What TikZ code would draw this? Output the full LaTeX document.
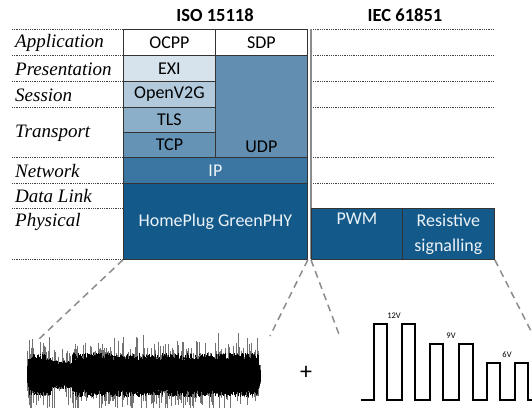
\documentclass[tikz,border=0pt]{standalone}
\usepackage{fontspec}
\setmainfont{Carlito}
\newfontfamily\layerfont{Liberation Serif}
\usetikzlibrary{positioning}

\definecolor{tintA}{HTML}{D6E3ED}
\definecolor{tintB}{HTML}{B2CADB}
\definecolor{tintC}{HTML}{8CAFC9}
\definecolor{tintD}{HTML}{6593B6}
\definecolor{tintE}{HTML}{3B76A3}
\definecolor{tintF}{HTML}{135A8B}

\tikzset{
  proto/.style={draw=black!80, line width=0.8pt, inner sep=0pt, anchor=north west,
    font=\fontsize{18}{25}\selectfont},
  dark/.style={proto, fill=tintF, text=white!92!tintF},
  osi/.style={anchor=west, inner sep=0pt, font=\layerfont\itshape\fontsize{19}{20}\selectfont},
  head/.style={inner sep=0pt, font=\bfseries\fontsize{18.5}{20}\selectfont},
  volt/.style={inner sep=0pt, font=\fontsize{8.5}{9}\selectfont},
  sep/.style={densely dotted, line width=0.8pt, black!75},
  zoomline/.style={dash pattern=on 7pt off 5pt, line width=1.5pt, black!45},
}

\begin{document}
\begin{tikzpicture}[x=1pt,y=-1pt]
  \useasboundingbox (0,0) rectangle (532,407);

  % headings
  \node[head] (iso) at (215,15) {ISO 15118};
  \node[head] (iec) at (405,15) {IEC 61851};

  % layer separators
  \foreach \y in {29,55,81,107,157,183,208,259}
    \draw[sep] (12,\y) -- (123,\y);
  \foreach \y in {29,55,81,107,157,183}
    \draw[sep] (313,\y) -- (494,\y);

  % OSI layers
  \node[osi] (lapp)  at (15,43)  {Application};
  \node[osi] (lpres) at (15,69)  {Presentation};
  \node[osi] (lses)  at (15,95)  {Session};
  \node[osi] (ltra)  at (15,133) {Transport};
  \node[osi] (lnet)  at (15,171) {Network};
  \node[osi] (ldl)   at (15,196) {Data Link};
  \node[osi] (lphy)  at (15,222) {Physical};

  % ISO 15118 stack
  \node[proto, fill=white, minimum width=92pt, minimum height=26pt] (ocpp) at (123,29) {OCPP};
  \node[proto, fill=white, minimum width=92pt, minimum height=26pt] (sdp) at (215,29) {SDP};
  \node[proto, fill=tintA, minimum width=92pt, minimum height=26pt] (exi) at (123,55) {EXI};
  \node[proto, fill=tintB, minimum width=92pt, minimum height=26pt] (v2g) at (123,81) {OpenV2G};
  \node[proto, fill=tintC, minimum width=92pt, minimum height=25pt] (tls) at (123,107) {TLS};
  \node[proto, fill=tintD, minimum width=92pt, minimum height=25pt] (tcp) at (123,132) {TCP};
  \node[proto, fill=tintD!97!black, minimum width=92pt, minimum height=102pt,
    label={[anchor=south, inner sep=5pt, font=\fontsize{18}{20}\selectfont]south:UDP}] (udp) at (215,55) {};
  \node[proto, fill=tintE, text=white!92!tintE, minimum width=184pt, minimum height=26pt] (ip) at (123,157) {IP};
  \node[dark, minimum width=184pt, minimum height=76pt] (home) at (123,183) {HomePlug GreenPHY};

  % IEC 61851
  \draw[black!45, line width=1.5pt] (311,29) -- (311,259);
  \node[dark, minimum width=91pt, minimum height=51pt,
    label={[anchor=north, inner sep=5pt, text=white!92!tintF, font=\fontsize{18}{20}\selectfont]north:PWM}] (pwm) at (311,208) {};
  \node[dark, minimum width=92pt, minimum height=51pt, align=center] (res) at (402,208) {Resistive\\signalling};

  % zoom lines
  \coordinate (nl) at (39,339);
  \coordinate (nr) at (270,336);
  \coordinate (sl) at (340,337);
  \coordinate (sr) at (532,333);
  \draw[zoomline] (home.south west) -- (nl);
  \draw[zoomline] (home.south east) -- (nr);
  \draw[zoomline] (pwm.south west) -- (sl);
  \draw[zoomline] (res.south east) -- (sr);

  % powerline noise
  \pgfmathsetseed{4711}
  \foreach \x in {27,27.5,...,260}{
    \pgfmathsetmacro\env{(\x<52 ? 19 : (\x<72 ? 13 : 20))*min(1,(\x-26)/3)*min(1,(261-\x)/3)}
    \pgfmathsetmacro\up{\env*(0.75+0.35*rnd)}
    \pgfmathsetmacro\dn{\env*(0.75+0.35*rnd)}
    \pgfmathsetmacro\spu{\up+22*rnd^7}
    \pgfmathsetmacro\spd{\dn+24*rnd^7}
    \draw[black!55, line width=0.5pt] (\x,375-\spu) -- (\x,375+\spd);
    \draw[line width=0.7pt] (\x,375-\up) -- (\x,375+\dn);
  }
  \node[font=\fontsize{24}{24}\selectfont, inner sep=0pt] (plus) at (306,373) {+};

  % pilot signal
  \draw[line width=2.2pt, line join=miter] (361,400)
    foreach \s/\e/\t in {374/387/324,402/415/324,430/443/344,459/473/344,487/500/363,515/528/363}
      { -- (\s,400) -- (\s,\t) -- (\e,\t) -- (\e,400) } -- (534,400);
  \node[volt] (v12) at (394,316) {12V};
  \node[volt] (v9)  at (451,336) {9V};
  \node[volt] (v6)  at (507,355) {6V};
\end{tikzpicture}
\end{document}
